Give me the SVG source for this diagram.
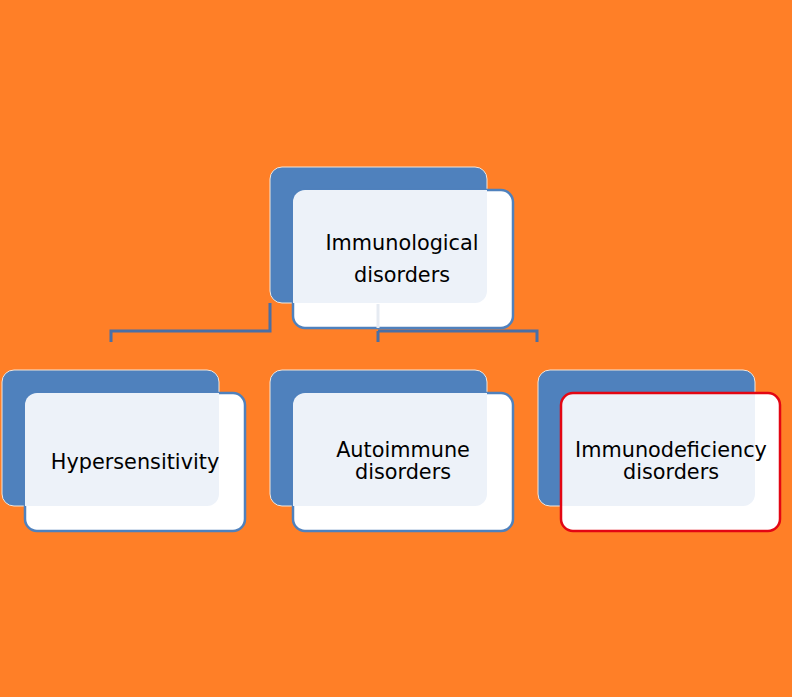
<svg xmlns="http://www.w3.org/2000/svg" width="792" height="697" viewBox="0 0 792 697">
<style>
.back{fill:#4f81bd;stroke:#f4e6d8;stroke-width:1}
.front{fill:#ffffff;stroke:#4f81bd;stroke-width:2.5}
.tint{fill:#edf2f9}
.conn{fill:none;stroke:#4a6fa5;stroke-width:3}
text{font-family:"DejaVu Sans",Verdana,sans-serif;font-size:20.8px;fill:#000;text-anchor:middle}
</style>
<defs>
<clipPath id="c1"><rect x="293" y="190" width="220" height="138" rx="12"/></clipPath>
<clipPath id="c2"><rect x="25" y="393" width="220" height="138" rx="12"/></clipPath>
<clipPath id="c3"><rect x="293" y="393" width="220" height="138" rx="12"/></clipPath>
<clipPath id="c4"><rect x="561" y="393" width="219" height="138" rx="12"/></clipPath>
</defs>
<rect width="792" height="697" fill="#ff7f27"/>
<g id="connectors">
<path class="conn" d="M270,303 V331 H111 V342"/>
<path class="conn" d="M378,331 H537 V342"/>
<path class="conn" d="M378,331 V342"/>
</g>
<g id="root">
<rect class="back" x="270" y="167" width="217" height="136" rx="12"/>
<rect class="front" x="293" y="190" width="220" height="138" rx="12"/>
<rect class="tint" x="270" y="167" width="217" height="136" rx="12" clip-path="url(#c1)"/>
<line x1="378" y1="304" x2="378" y2="328" stroke="#e6ebf2" stroke-width="3"/>
<text x="402" y="250">Immunological</text>
<text x="402" y="282">disorders</text>
</g>
<g id="hyper">
<rect class="back" x="2" y="370" width="217" height="136" rx="12"/>
<rect class="front" x="25" y="393" width="220" height="138" rx="12"/>
<rect class="tint" x="2" y="370" width="217" height="136" rx="12" clip-path="url(#c2)"/>
<text x="135" y="469">Hypersensitivity</text>
</g>
<g id="auto">
<rect class="back" x="270" y="370" width="217" height="136" rx="12"/>
<rect class="front" x="293" y="393" width="220" height="138" rx="12"/>
<rect class="tint" x="270" y="370" width="217" height="136" rx="12" clip-path="url(#c3)"/>
<text x="403" y="457">Autoimmune</text>
<text x="403" y="479">disorders</text>
</g>
<g id="immuno">
<rect class="back" x="538" y="370" width="217" height="136" rx="12"/>
<rect x="561" y="393" width="219" height="138" rx="12" fill="#fff"/>
<rect class="tint" x="538" y="370" width="217" height="136" rx="12" clip-path="url(#c4)"/>
<rect x="561" y="393" width="219" height="138" rx="12" fill="none" stroke="#e30613" stroke-width="2.5"/>
<text x="671" y="457">Immunodeficiency</text>
<text x="671" y="479">disorders</text>
</g>
</svg>
